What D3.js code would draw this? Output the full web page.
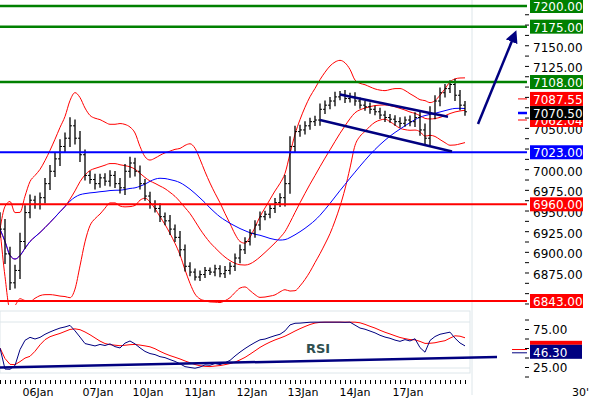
<!DOCTYPE html><html><head><meta charset="utf-8"><script src="https://cdn.jsdelivr.net/npm/d3@7"></script>
<style>body{margin:0;background:#fff}svg{display:block;font-family:"DejaVu Sans",sans-serif}</style></head><body><svg id="c" width="590" height="400"></svg><script>
const closes=[6930,6900,6865,6880,6915,6950,6965,6960,6968,6985,7000,7015,7030,7040,7055,7040,7020,6995,6990,6985,6992,6988,6995,6985,6980,7000,7010,7000,6985,6970,6960,6955,6945,6940,6930,6920,6905,6885,6878,6872,6875,6880,6878,6882,6876,6880,6885,6895,6905,6915,6925,6935,6945,6948,6955,6962,6968,6985,7030,7048,7050,7055,7060,7062,7075,7080,7085,7090,7093,7088,7090,7085,7080,7078,7075,7072,7068,7065,7063,7060,7058,7062,7060,7065,7050,7040,7070,7085,7095,7100,7105,7092,7080,7072];
const spreads=[30,35,25,20,30,25,20,15,18,20,22,20,25,20,30,22,25,18,15,20,14,16,18,15,20,25,22,18,20,16,15,14,18,15,20,16,22,18,14,12,14,12,10,14,12,15,14,16,18,15,14,16,18,12,14,16,15,30,35,20,18,16,14,15,20,16,14,18,12,15,14,16,12,14,15,12,14,15,12,14,15,12,16,18,20,22,25,20,18,16,15,20,18,14];
const levels=[{v:7200,c:"#008000"},{v:7175,c:"#008000"},{v:7108,c:"#008000"},{v:7023,c:"#0000ff"},{v:6960,c:"#ff0000"},{v:6843,c:"#ff0000"}];
const priceTicks=[7150,7125,7050,7000,6975,6950,6925,6900,6875];
const markers=[{v:7062.04,c:"#ff0000"},{v:7087.55,c:"#ff0000"},{v:7070.50,c:"#000000"}];
const dayLabels=[{t:"Jan",i:-2.2},{t:"06Jan",i:7.6},{t:"07Jan",i:19.6},{t:"10Jan",i:29.6},{t:"11Jan",i:40},{t:"12Jan",i:50.4},{t:"13Jan",i:60.6},{t:"14Jan",i:71},{t:"17Jan",i:81.6}];
const channelUp=[{i:68,v:7093},{i:89.6,v:7066}];
const channelLo=[{i:64,v:7062},{i:90.4,v:7024}];
const rsiTicks=[75,25];
const rsiTrend=[{i:0,v:24.5},{i:99.4,v:38}];

const svg=d3.select("#c");
const x=d3.scaleLinear().domain([0,1]).range([0,5]);
const y=d3.scaleLinear().domain([7200,6843]).range([6,301]);
const yr=d3.scaleLinear().domain([75,25]).range([329,367]);
svg.append("line").attr("x1",472).attr("x2",472).attr("y1",0).attr("y2",395).attr("stroke","#dde6ea");
svg.append("rect").attr("x",0).attr("y",311).attr("width",470).attr("height",62).attr("fill","none").attr("stroke","#dde6ea");
svg.append("line").attr("x1",0).attr("x2",470).attr("y1",322).attr("y2",322).attr("stroke","#dde6ea");
svg.append("line").attr("x1",0).attr("x2",470).attr("y1",368).attr("y2",368).attr("stroke","#dde6ea");
function sma(a,n){return a.map((d,i)=>d3.mean(a.slice(Math.max(0,i-n+1),i+1)));}
function sd(a,n){return a.map((d,i)=>d3.deviation(a.slice(Math.max(0,i-n+1),i+1))||0);}
const mid=sma(closes,14),dev=sd(closes,14),ma2=sma(closes,28);
const up=mid.map((m,i)=>m+2*dev[i]),lo=mid.map((m,i)=>m-2*dev[i]);
const ln=d3.line().x((d,i)=>x(i)).y(d=>y(d)).curve(d3.curveMonotoneX);
svg.append("clipPath").attr("id","pc").append("rect").attr("x",0).attr("y",0).attr("width",470).attr("height",305);
const g=svg.append("g").attr("clip-path","url(#pc)");
[up,lo,mid].forEach(a=>g.append("path").attr("d",ln(a)).attr("fill","none").attr("stroke","#ff0000").attr("stroke-width",1));
g.append("path").attr("d",ln(ma2)).attr("fill","none").attr("stroke","#0000ff").attr("stroke-width",1);
levels.forEach(l=>svg.append("line").attr("x1",0).attr("x2",527).attr("y1",y(l.v)).attr("y2",y(l.v)).attr("stroke",l.c).attr("stroke-width",l.c=="#008000"?2.5:2));
closes.forEach((c,i)=>{const o=i?closes[i-1]:c+10,s=spreads[i];const h=Math.max(o,c)+s*0.35,l=Math.min(o,c)-s*0.35;
 g.append("line").attr("x1",x(i)).attr("x2",x(i)).attr("y1",y(h)).attr("y2",y(l)).attr("stroke","#000").attr("stroke-width",1.3);
 g.append("line").attr("x1",x(i)-2).attr("x2",x(i)).attr("y1",y(o)).attr("y2",y(o)).attr("stroke","#000");
 g.append("line").attr("x1",x(i)).attr("x2",x(i)+2).attr("y1",y(c)).attr("y2",y(c)).attr("stroke","#000");});
[channelUp,channelLo].forEach(a=>svg.append("line").attr("x1",x(a[0].i)).attr("y1",y(a[0].v)).attr("x2",x(a[1].i)).attr("y2",y(a[1].v)).attr("stroke","#000080").attr("stroke-width",2.5));
svg.append("defs").append("marker").attr("id","ah").attr("viewBox","0 0 10 10").attr("refX",5).attr("refY",5).attr("markerWidth",5).attr("markerHeight",5).attr("orient","auto").append("path").attr("d","M0,0L10,5L0,10z").attr("fill","#000080");
svg.append("line").attr("x1",478).attr("y1",124).attr("x2",514).attr("y2",36).attr("stroke","#000080").attr("stroke-width",2.5).attr("marker-end","url(#ah)");
const ax=svg.append("g").attr("transform","translate(525,0)");
ax.call(d3.axisRight(y).tickValues(d3.range(6840,7201,12.5)).tickSize(4).tickFormat("")).select(".domain").remove();
priceTicks.forEach(v=>svg.append("text").attr("x",533).attr("y",y(v)+4.5).attr("font-size",12).text(d3.format(".2f")(v)));
markers.forEach(m=>{svg.append("line").attr("x1",518).attr("x2",527).attr("y1",y(m.v)).attr("y2",y(m.v)).attr("stroke",m.c=="#000000"?"#0000ff":m.c).attr("stroke-width",m.c=="#000000"?2.5:1);
 svg.append("rect").attr("x",530).attr("y",y(m.v)-7).attr("width",53).attr("height",14).attr("fill",m.c);
 svg.append("text").attr("x",533).attr("y",y(m.v)+5).attr("font-size",12).attr("fill","#fff").text(d3.format(".2f")(m.v));});
levels.forEach(l=>{svg.append("rect").attr("x",530).attr("y",y(l.v)-7).attr("width",53).attr("height",14).attr("fill",l.c);
 svg.append("text").attr("x",533).attr("y",y(l.v)+5).attr("font-size",12).attr("fill","#fff").text(d3.format(".2f")(l.v));});
function rsi(a,n){let out=[],ag=1,al=1;for(let i=0;i<a.length;i++){const d=i?a[i]-a[i-1]:0;ag=(ag*(n-1)+Math.max(d,0))/n;al=(al*(n-1)+Math.max(-d,0))/n;out.push(100-100/(1+ag/(al||1e-6)));}return out;}
const r=rsi(closes,14),rs=sma(r,6);
const lr=d3.line().x((d,i)=>x(i)).y(d=>yr(Math.max(22,Math.min(84,d))));
svg.append("path").attr("d",lr(rs)).attr("fill","none").attr("stroke","#ff0000");
svg.append("path").attr("d",lr(r)).attr("fill","none").attr("stroke","#000080");
svg.append("line").attr("x1",x(rsiTrend[0].i)).attr("y1",yr(rsiTrend[0].v)).attr("x2",x(rsiTrend[1].i)).attr("y2",yr(rsiTrend[1].v)).attr("stroke","#000080").attr("stroke-width",2.5);
svg.append("text").attr("x",306).attr("y",353).attr("font-size",13).attr("font-weight","bold").attr("fill","#2f4f4f").text("RSI");
const ra=svg.append("g").attr("transform","translate(525,0)");
ra.call(d3.axisRight(yr).tickValues(d3.range(12.5,100,12.5)).tickSize(4).tickFormat("")).select(".domain").remove();
ra.selectAll(".tick").filter(d=>d>88).remove();
rsiTicks.forEach(v=>svg.append("text").attr("x",533).attr("y",yr(v)+4.5).attr("font-size",12).text(d3.format(".2f")(v)));
svg.append("line").attr("x1",512).attr("x2",527).attr("y1",yr(48)).attr("y2",yr(48)).attr("stroke","#ff0000");
svg.append("line").attr("x1",512).attr("x2",527).attr("y1",yr(46.3)+2).attr("y2",yr(46.3)+2).attr("stroke","#000080");
svg.append("rect").attr("x",530).attr("y",yr(46.3)-10).attr("width",52).attr("height",4).attr("fill","#ff0000");
svg.append("rect").attr("x",530).attr("y",yr(46.3)-6).attr("width",52).attr("height",14).attr("fill","#000080");
svg.append("text").attr("x",533).attr("y",yr(46.3)+6).attr("font-size",12).attr("fill","#fff").text("46.30");
const xa=svg.append("g").attr("transform","translate(0,380)");
xa.call(d3.axisBottom(x).tickValues(d3.range(0,94,1)).tickSize(4).tickFormat("")).select(".domain").remove();
dayLabels.forEach(d=>svg.append("text").attr("x",x(d.i)).attr("y",396).attr("text-anchor","middle").attr("font-size",11).text(d.t));
svg.append("text").attr("x",572).attr("y",396).attr("font-size",11).text("30'");
</script></body></html>
